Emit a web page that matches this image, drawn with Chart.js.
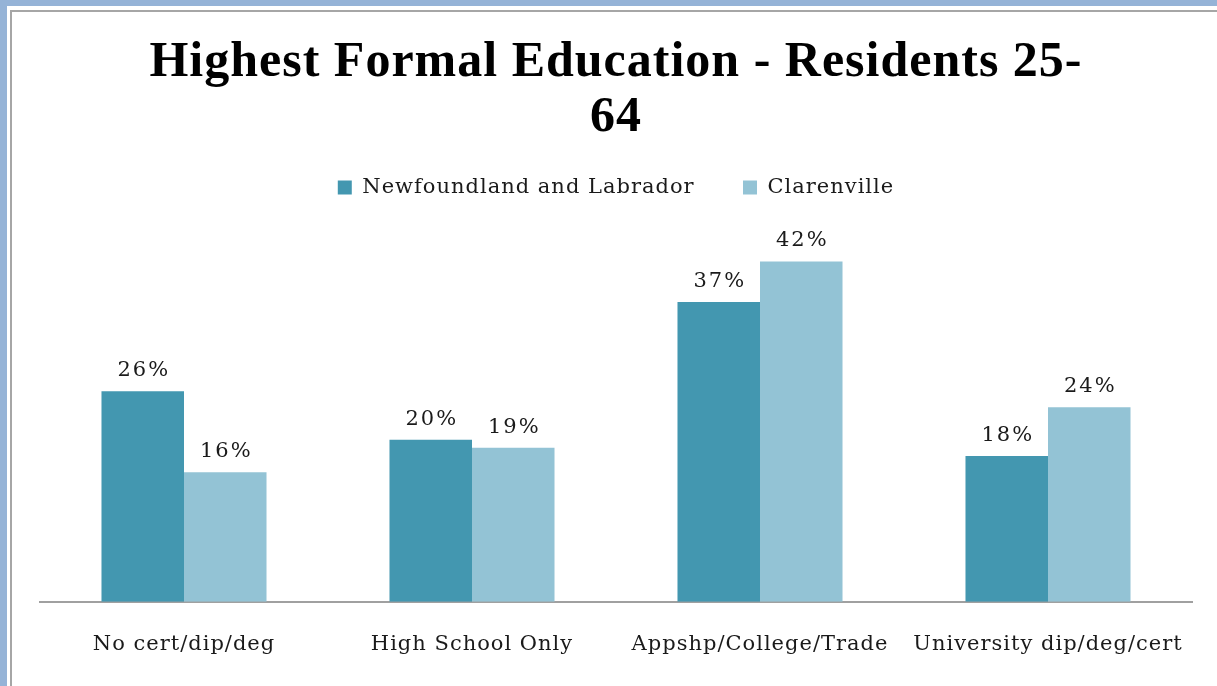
<!DOCTYPE html>
<html>
<head>
<meta charset="utf-8">
<script src="https://cdn.jsdelivr.net/npm/chart.js@4.4.1/dist/chart.umd.min.js"></script>
<style>
  html, body { margin: 0; padding: 0; width: 1217px; height: 686px; overflow: hidden; background: #95b3d7; }
  #outer { position: absolute; left: 7px; top: 6px; width: 1400px; height: 900px; background: #ffffff; }
  #inner { position: absolute; left: 3px; top: 4px; width: 1390px; height: 890px; border: 2px solid #a6a6a6; background: #ffffff; }
  #wrap { position: absolute; left: 0; top: 0; width: 1217px; height: 686px; }
</style>
</head>
<body>
<div id="outer"><div id="inner"></div></div>
<div id="wrap"><canvas id="c" width="1217" height="686"></canvas></div>
<script>
const categories = ["No cert/dip/deg", "High School Only", "Appshp/College/Trade", "University dip/deg/cert"];
const seriesNames = ["Newfoundland and Labrador", "Clarenville"];
const nlValues = [26, 20, 37, 18];
const clarenvilleValues = [16, 19, 42, 24];
const titleLines = ["Highest Formal Education - Residents 25-", "64"];

const titleFont = "'Liberation Serif', 'DejaVu Serif', serif";
const bodyFont = "'DejaVu Serif', 'Liberation Serif', serif";

const spacing = {
  id: 'spacing',
  afterInit(chart) { chart.ctx.letterSpacing = '1px'; },
  beforeUpdate(chart) { chart.ctx.letterSpacing = '1px'; },
  beforeDraw(chart) { chart.ctx.letterSpacing = '1px'; }
};

const valueLabels = {
  id: 'valueLabels',
  afterDatasetsDraw(chart) {
    const ctx = chart.ctx;
    ctx.save();
    ctx.letterSpacing = '2px';
    ctx.font = "21px " + bodyFont;
    ctx.fillStyle = "#1a1a1a";
    ctx.textAlign = "center";
    ctx.textBaseline = "alphabetic";
    chart.data.datasets.forEach((ds, i) => {
      const meta = chart.getDatasetMeta(i);
      meta.data.forEach((el, j) => {
        ctx.fillText(ds.data[j] + "%", el.x + 1, el.y - 15);
      });
    });
    ctx.restore();
  }
};

new Chart(document.getElementById('c'), {
  type: 'bar',
  data: {
    labels: categories,
    datasets: [
      { label: seriesNames[0], data: nlValues, backgroundColor: '#4397b0', categoryPercentage: 0.573, barPercentage: 1.0 },
      { label: seriesNames[1], data: clarenvilleValues, backgroundColor: '#93c3d5', categoryPercentage: 0.573, barPercentage: 1.0 }
    ]
  },
  options: {
    responsive: false,
    animation: false,
    devicePixelRatio: 1,
    layout: { padding: { left: 40, right: 25, top: 0, bottom: -1 } },
    plugins: {
      title: {
        display: true,
        text: titleLines,
        color: '#000000',
        font: { family: titleFont, size: 50, weight: 'bold', lineHeight: 1.1 },
        padding: { top: 36, bottom: 21 }
      },
      legend: {
        display: true,
        position: 'top',
        labels: {
          color: '#1a1a1a',
          font: { family: bodyFont, size: 21 },
          boxWidth: 14,
          boxHeight: 14,
          padding: 10,
          generateLabels(chart) {
            const items = Chart.defaults.plugins.legend.labels.generateLabels(chart);
            if (items.length) items[0].text = items[0].text + '\u00a0\u00a0\u00a0\u00a0\u00a0';
            items.forEach(it => { it.lineWidth = 0; it.strokeStyle = 'rgba(0,0,0,0)'; });
            return items;
          }
        }
      },
      tooltip: { enabled: false }
    },
    scales: {
      x: {
        grid: { display: false, drawTicks: false },
        border: { display: true, color: '#a0a0a0', width: 2 },
        ticks: { color: '#1a1a1a', font: { family: bodyFont, size: 21 }, padding: 30, maxRotation: 0 }
      },
      y: {
        display: false,
        min: 0,
        max: 48.6
      }
    }
  },
  plugins: [spacing, valueLabels]
});
</script>
</body>
</html>
